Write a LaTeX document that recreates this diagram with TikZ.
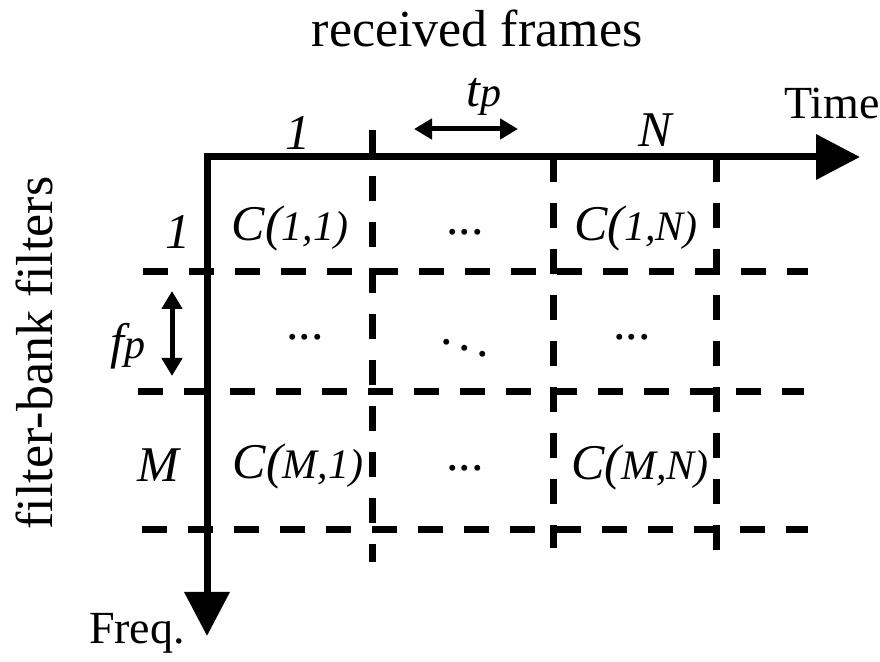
\documentclass[tikz,border=0pt]{standalone}
\usepackage{fontspec}
\setmainfont{Liberation Serif}
\usetikzlibrary{arrows.meta,positioning}

\begin{document}
\begin{tikzpicture}[x=0.5pt,y=-0.5pt,
    txt/.style={font=\fontsize{25}{30}\selectfont,inner sep=0pt},
    lbl/.style={font=\fontsize{25}{30}\selectfont\itshape,inner sep=0pt},
    axis/.style={line width=3.5pt,line join=miter,
                 {Triangle[length=22pt,width=22pt]}-{Triangle[length=22pt,width=22pt]}},
    grid/.style={line width=3.5pt,dash pattern=on 12.5pt off 10.5pt},
    span/.style={line width=2.5pt,
                 {Triangle[length=9pt,width=10pt]}-{Triangle[length=9pt,width=10pt]}}]
    \useasboundingbox (0,0) rectangle (880,662);
    % axes
    \coordinate (origin) at (207,157);
    \coordinate (timeend) at (860,157);
    \coordinate (freqend) at (207,636);
    \draw[axis] (timeend) -- (origin) -- (freqend);
    % dashed grid
    \foreach \y/\xa/\xb in {272/143/808, 392/138/804, 530/142/808}
      \draw[grid] (\xa,\y) -- (\xb,\y);
    \foreach \x/\ya/\yb in {372/130/562, 553/157/548, 716/157/556}
      \draw[grid] (\x,\ya) -- (\x,\yb);
    % titles
    \node[txt,font=\fontsize{26}{30}\selectfont] (title) at (477,28) {received frames};
    \node[txt,font=\fontsize{26}{30}\selectfont,rotate=90] (side) at (34,353) {filter-bank filters};
    \node[txt,font=\fontsize{23}{28}\selectfont] (time) at (832,104) {Time};
    \node[txt,font=\fontsize{23}{28}\selectfont] (freq) at (137,633) {Freq.};
    % indices
    \node[lbl] (col1) at (298,133) {1};
    \node[lbl] (colN) at (655,130) {N};
    \node[lbl] (row1) at (178,232) {1};
    \node[lbl] (rowM) at (158,465) {M};
    % spacings
    \node[lbl] (tp) at (484,97) {t{\fontsize{21}{21}\selectfont p}};
    \coordinate (tpl) at (414,129);
    \coordinate (tpr) at (518,129);
    \draw[span] (tpl) -- (tpr);
    \node[lbl] (fp) at (128,346) {f{\fontsize{21}{21}\selectfont p}};
    \coordinate (fpt) at (172,291);
    \coordinate (fpb) at (172,376);
    \draw[span] (fpt) -- (fpb);
    % cells
    \node[lbl] (c11) at (290,228) {C({\fontsize{21}{21}\selectfont 1,1)}};
    \node[txt] (d12) at (465,232) {...};
    \node[lbl] (c1N) at (636,228) {C({\fontsize{21}{21}\selectfont 1,N)}};
    \node[txt] (d21) at (305,337) {...};
    \node[font=\fontsize{25}{30}\selectfont,inner sep=0pt] (d22) at (465,342) {$\ddots$};
    \node[txt] (d23) at (632,337) {...};
    \node[lbl] (cM1) at (298,466) {C({\fontsize{21}{21}\selectfont M,1)}};
    \node[txt] (d32) at (465,468) {...};
    \node[lbl] (cMN) at (640,467) {C({\fontsize{21}{21}\selectfont M,N)}};
\end{tikzpicture}
\end{document}
